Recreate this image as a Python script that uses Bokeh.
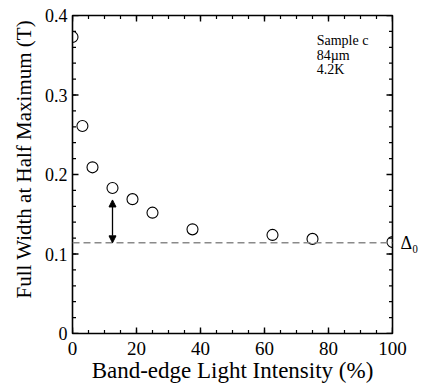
from bokeh.plotting import figure
from bokeh.models import (LinearAxis, Range1d, Span, Arrow, NormalHead, Label, Title,
                          FixedTicker, ColumnDataSource, CustomJSTickFormatter)
from bokeh.embed import file_html
from bokeh.resources import INLINE

intensity = [0, 3.1, 6.25, 12.5, 18.75, 25, 37.5, 62.5, 75, 100]
fwhm = [0.373, 0.261, 0.209, 0.183, 0.169, 0.152, 0.131, 0.124, 0.119, 0.115]
delta0 = 0.114
arrow_x = 12.5
arrow_top = 0.168
x_ticks = [0, 20, 40, 60, 80, 100]
y_ticks = [0, 0.1, 0.2, 0.3, 0.4]
x_minor = [5 * i for i in range(21)]
y_minor = [round(0.02 * i, 2) for i in range(21)]
note_lines = ["Sample c", "84\u00b5m", "4.2K"]

FONT = "Liberation Serif"
X0, X1, Y0, Y1 = 0, 100, 0, 0.4
FRAME_W, FRAME_H = 320, 318
MAJ, MIN = 6, 3.5
dx = (X1 - X0) / FRAME_W
dy = (Y1 - Y0) / FRAME_H

p = figure(width=424, height=385, output_backend="svg", toolbar_location=None,
           x_range=Range1d(X0, X1), y_range=Range1d(Y0, Y1),
           x_axis_location=None, y_axis_location=None,
           min_border_left=72, min_border_right=32, min_border_top=15,
           min_border_bottom=52)
p.grid.visible = False
p.outline_line_color = "black"
p.outline_line_width = 1.6

def style(ax):
    ax.major_tick_in = 0
    ax.major_tick_out = 0
    ax.minor_tick_in = 0
    ax.minor_tick_out = 0
    ax.axis_line_color = None
    ax.major_label_text_font = FONT
    ax.major_label_text_font_size = "19px"
    ax.major_label_text_color = "black"
    ax.axis_label_text_font = FONT
    ax.axis_label_text_font_size = "23px"
    ax.axis_label_text_font_style = "normal"
    ax.axis_label_text_color = "black"

bx = LinearAxis(ticker=FixedTicker(ticks=x_ticks), axis_label="Band-edge Light Intensity (%)")
style(bx)
bx.major_label_standoff = 8
bx.axis_label_standoff = 0
p.add_layout(bx, "below")

ly = LinearAxis(ticker=FixedTicker(ticks=y_ticks),
                formatter=CustomJSTickFormatter(code="return tick == 0 ? '0' : tick.toFixed(1)"))
style(ly)
ly.major_label_text_font_size = "18px"
ly.major_label_standoff = 5
p.add_layout(ly, "left")

p.add_layout(Title(text="Full Width at Half Maximum (T)", text_font=FONT,
                   text_font_size="21px", text_font_style="normal", text_color="black",
                   align="left", offset=35, standoff=12), "left")

ry = LinearAxis(ticker=FixedTicker(ticks=[delta0]),
                formatter=CustomJSTickFormatter(code="return '\u0394\u2080'"))
style(ry)
ry.major_label_text_font_size = "18px"
ry.major_label_standoff = 8
p.add_layout(ry, "right")

def tick_segments(xs, ys, length):
    x0, y0, x1, y1 = [], [], [], []
    for t in xs:
        x0 += [t, t]; x1 += [t, t]
        y0 += [Y0, Y1]; y1 += [Y0 + length * dy, Y1 - length * dy]
    for t in ys:
        y0 += [t, t]; y1 += [t, t]
        x0 += [X0, X1]; x1 += [X0 + length * dx, X1 - length * dx]
    return dict(x0=x0, y0=y0, x1=x1, y1=y1)

p.segment("x0", "y0", "x1", "y1", source=ColumnDataSource(tick_segments(x_minor, y_minor, MIN)),
          line_color="black", line_width=1.2)
p.segment("x0", "y0", "x1", "y1", source=ColumnDataSource(tick_segments(x_ticks, y_ticks, MAJ)),
          line_color="black", line_width=1.4)

src = ColumnDataSource(dict(x=intensity, y=fwhm))

p.add_layout(Span(location=delta0, dimension="width", line_color="#8a8a8a",
                  line_dash="7 4", line_width=1.5))

p.scatter("x", "y", source=src, size=11, fill_color=None, line_color="black",
          line_width=1.1)

p.add_layout(Arrow(x_start=arrow_x, y_start=delta0, x_end=arrow_x, y_end=arrow_top,
                   line_width=1.3, line_color="black",
                   start=NormalHead(size=7, fill_color="black", line_color="black"),
                   end=NormalHead(size=7, fill_color="black", line_color="black")))

note_y = [0.369, 0.350, 0.332]
for t, yy in zip(note_lines, note_y):
    p.add_layout(Label(x=76.3, y=yy, text=t, text_font=FONT, text_baseline="middle",
                       text_font_size="14px", text_color="black"))

open("out.html", "w").write(file_html(p, INLINE))
